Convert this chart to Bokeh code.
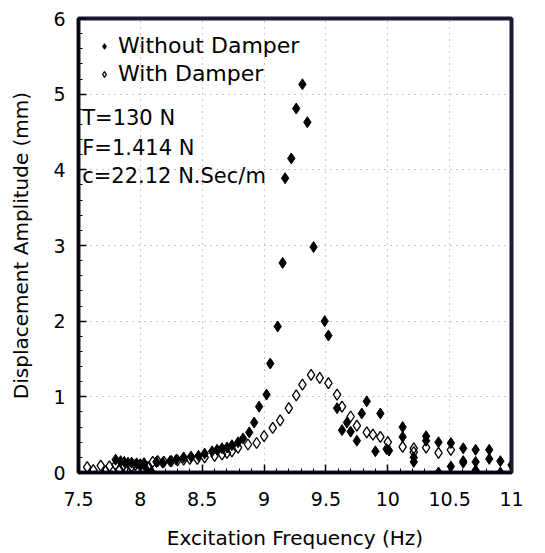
from bokeh.plotting import figure
from bokeh.models import Legend, LegendItem, Label, FixedTicker, LinearAxis
from bokeh.embed import file_html
from bokeh.resources import INLINE

# ---- data ----
freq_without = [7.80, 7.84, 7.87, 7.90, 7.93, 7.97, 8.00, 8.03, 8.06, 8.09,
                8.13, 8.18, 8.24, 8.29, 8.35, 8.41, 8.47, 8.52, 8.58, 8.62,
                8.66, 8.70, 8.74, 8.79, 8.83, 8.88, 8.92, 8.96, 9.02, 9.05,
                9.11, 9.15, 9.17, 9.22, 9.26, 9.31, 9.35, 9.40, 9.49, 9.52,
                9.59, 9.63, 9.67, 9.70, 9.75, 9.79, 9.83, 9.90, 9.94, 9.99,
                10.01, 10.12, 10.12, 10.21, 10.21, 10.31, 10.31, 10.41, 10.41, 10.51,
                10.51, 10.61, 10.61, 10.61, 10.71, 10.71, 10.71, 10.82, 10.82, 10.91,
                10.91, 11.0]
amp_without = [0.17, 0.15, 0.14, 0.13, 0.13, 0.12, 0.11, 0.10, 0.01, 0.01,
               0.14, 0.13, 0.15, 0.17, 0.20, 0.21, 0.22, 0.25, 0.28, 0.30,
               0.32, 0.33, 0.36, 0.40, 0.45, 0.53, 0.66, 0.87, 1.03, 1.44,
               1.93, 2.77, 3.89, 4.15, 4.81, 5.13, 4.63, 2.98, 2.00, 1.81,
               0.85, 0.56, 0.66, 0.54, 0.42, 0.78, 0.94, 0.28, 0.78, 0.31,
               0.29, 0.60, 0.47, 0.20, 0.14, 0.48, 0.42, 0.40, 0.00, 0.39,
               0.08, 0.32, 0.15, 0.13, 0.30, 0.14, 0.03, 0.30, 0.18, 0.15,
               0.00, 0.10]

freq_with = [7.57, 7.62, 7.68, 7.72, 7.75, 7.80, 7.83, 7.86, 7.89, 7.93,
             7.96, 8.00, 8.03, 8.06, 8.10, 8.14, 8.19, 8.25, 8.30, 8.35,
             8.40, 8.46, 8.52, 8.60, 8.66, 8.70, 8.74, 8.79, 8.87, 8.94,
             9.00, 9.07, 9.13, 9.20, 9.26, 9.31, 9.38, 9.45, 9.52, 9.59,
             9.63, 9.70, 9.75, 9.83, 9.88, 9.94, 10.00, 10.12, 10.21, 10.21,
             10.31, 10.41, 10.51]
amp_with = [0.07, 0.03, 0.09, 0.02, 0.08, 0.10, 0.04, 0.09, 0.01, 0.08,
            0.10, 0.09, 0.12, 0.07, 0.14, 0.15, 0.14, 0.15, 0.16, 0.17,
            0.18, 0.18, 0.20, 0.22, 0.24, 0.26, 0.28, 0.33, 0.37, 0.39,
            0.48, 0.59, 0.69, 0.85, 1.02, 1.16, 1.29, 1.25, 1.18, 1.03,
            0.87, 0.74, 0.62, 0.53, 0.50, 0.47, 0.40, 0.34, 0.32, 0.27,
            0.33, 0.26, 0.30]

x_ticks = [7.5, 8, 8.5, 9, 9.5, 10, 10.5, 11]
y_ticks = [0, 1, 2, 3, 4, 5, 6]
notes = ["T=130 N", "F=1.414 N", "c=22.12 N.Sec/m"]
note_y = [4.68, 4.29, 3.92]

FONT = "DejaVu Sans"
FRAME = "#1a1a33"

p = figure(width=545, height=553, x_range=(7.5, 11), y_range=(0, 6),
           output_backend="svg", toolbar_location=None,
           min_border_left=78, min_border_right=34,
           min_border_top=18, min_border_bottom=81)

p.outline_line_color = FRAME
p.outline_line_width = 4

r1 = p.scatter(freq_without, amp_without, marker="diamond", size=11,
               fill_color="black", line_color="black", line_width=1)
r2 = p.scatter(freq_with, amp_with, marker="diamond", size=11,
               fill_alpha=0, line_color="black", line_width=1.3)

# frame lines on top and right: plain axes without ticks or labels
for side in ("above", "right"):
    frame_ax = LinearAxis(axis_line_width=3, axis_line_color=FRAME,
                          ticker=FixedTicker(ticks=[]),
                          major_tick_line_color=None,
                          minor_tick_line_color=None)
    p.add_layout(frame_ax, side)

bottom_ax = p.below[0]
left_ax = p.left[0]
for ax in (bottom_ax, left_ax):
    ax.axis_line_width = 2
    ax.axis_line_color = "black"
    ax.major_tick_in = 8
    ax.major_tick_out = 0
    ax.minor_tick_in = 4
    ax.minor_tick_out = 0
    ax.major_tick_line_width = 1.5
    ax.major_label_text_font = FONT
    ax.major_label_text_font_size = "19px"
    ax.major_label_text_color = "black"
    ax.axis_label_text_font = FONT
    ax.axis_label_text_font_size = "20px"
    ax.axis_label_text_font_style = "normal"
    ax.axis_label_text_color = "black"

bottom_ax.ticker = FixedTicker(ticks=x_ticks,
                               minor_ticks=[7.5 + 0.1 * i for i in range(36)])
left_ax.ticker = FixedTicker(ticks=y_ticks,
                             minor_ticks=[0.2 * i for i in range(31)])
bottom_ax.major_label_overrides = {t: ("%g" % t) for t in x_ticks}
bottom_ax.axis_label = "Excitation Frequency (Hz)"
left_ax.axis_label = "Displacement Amplitude (mm)"
bottom_ax.major_label_standoff = 19
bottom_ax.axis_label_standoff = 17
left_ax.major_label_standoff = 13
left_ax.axis_label_standoff = 17

p.xgrid.ticker = FixedTicker(ticks=x_ticks[1:-1])
p.ygrid.ticker = FixedTicker(ticks=y_ticks[1:-1])
for g in (p.xgrid[0], p.ygrid[0]):
    g.grid_line_color = "#888888"
    g.grid_line_dash = "1 5"
    g.grid_line_alpha = 0.9

legend = Legend(items=[LegendItem(label="Without Damper", renderers=[r1]),
                       LegendItem(label="With Damper", renderers=[r2])],
                location="top_left", margin=15, padding=0, spacing=3,
                glyph_width=22, glyph_height=14, label_height=24,
                label_standoff=3, border_line_color=None,
                background_fill_alpha=0,
                label_text_font=FONT, label_text_font_size="22px",
                label_text_color="black")
p.add_layout(legend)

for txt, yy in zip(notes, note_y):
    p.add_layout(Label(x=7.53, y=yy, text=txt, text_font=FONT,
                       text_font_size="21px", text_baseline="middle",
                       text_color="black"))

open("out.html", "w").write(file_html(p, INLINE))
